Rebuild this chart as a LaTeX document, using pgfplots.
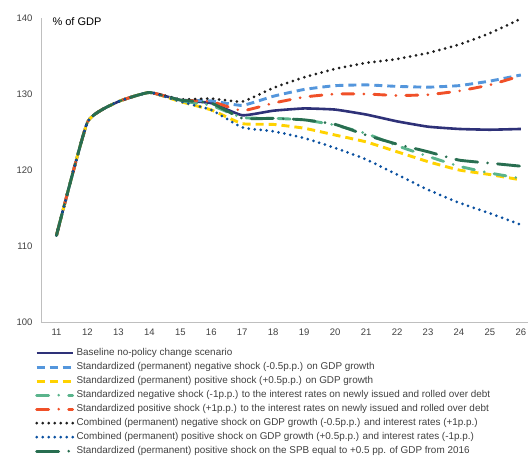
\documentclass[border=0pt]{standalone}
\usepackage{pgfplots}
\pgfplotsset{compat=1.18}
\usepackage{fontspec}
\setmainfont{Liberation Sans}
\definecolor{cnavy}{RGB}{46,49,120}
\definecolor{cblue}{RGB}{84,150,220}
\definecolor{cyellow}{RGB}{255,210,0}
\definecolor{cteal}{RGB}{90,180,140}
\definecolor{corange}{RGB}{240,80,40}
\definecolor{cblack}{RGB}{30,30,30}
\definecolor{cdblue}{RGB}{10,80,160}
\definecolor{cgreen}{RGB}{40,110,80}
\definecolor{cgrid}{RGB}{191,191,191}
\definecolor{ctext}{RGB}{64,64,64}
\begin{document}
\begin{tikzpicture}
\begin{axis}[
  scale only axis, width=487pt, height=304pt,
  xmin=10.5, xmax=26.23, ymin=100, ymax=140,
  axis x line=bottom, axis y line=left,
  axis line style={cgrid, line width=0.8pt, -},
  xtick={11,...,26}, ytick={100,110,120,130,140},
  major tick length=0pt,
  tick label style={font=\fontsize{9.5}{11}\selectfont, text=ctext},
  /pgf/number format/assume math mode=true,
  xticklabel style={yshift=-3pt},
  yticklabel style={xshift=-5pt},
  clip=false,
  legend cell align=left,
  legend style={draw=none, fill=none, at={(0,0)}, anchor=north west, xshift=-9pt, yshift=-22pt,
    font=\fontsize{9.9}{11}\selectfont, text=ctext,
    nodes={text height=7.3pt, text depth=2pt, inner sep=2.35pt}},
  legend image code/.code={\draw[#1] (0pt,0pt) -- (36pt,0pt);},
]
\addplot[cnavy, line width=2.6pt, smooth, tension=0.25] coordinates {(11,111.4)(12,126.3)(13,129.0)(14,130.2)(15,129.2)(16,128.8)(17,127.2)(18,127.8)(19,128.1)(20,127.95)(21,127.3)(22,126.4)(23,125.7)(24,125.4)(25,125.3)(26,125.4)};
\addlegendentry{Baseline no-policy change scenario}
\addplot[cblue, line width=2.9pt, smooth, tension=0.25, dash pattern=on 8pt off 5pt] coordinates {(11,111.4)(12,126.3)(13,129.0)(14,130.2)(15,129.2)(16,129.1)(17,128.5)(18,129.7)(19,130.6)(20,131.1)(21,131.2)(22,131.0)(23,130.9)(24,131.1)(25,131.7)(26,132.5)};
\addlegendentry{Standardized (permanent) negative shock (-0.5p.p.) on GDP growth}
\addplot[cyellow, line width=2.9pt, smooth, tension=0.25, dash pattern=on 8pt off 5pt] coordinates {(11,111.4)(12,126.3)(13,129.0)(14,130.2)(15,129.0)(16,127.9)(17,126.1)(18,126.0)(19,125.5)(20,124.6)(21,123.7)(22,122.4)(23,121.1)(24,120.0)(25,119.4)(26,118.7)};
\addlegendentry{Standardized (permanent) positive shock (+0.5p.p.) on GDP growth}
\addplot[cteal, line width=2.9pt, smooth, tension=0.25, dash pattern=on 12pt off 10pt on 0pt off 10pt, line cap=round] coordinates {(11,111.4)(12,126.3)(13,129.0)(14,130.2)(15,129.1)(16,128.5)(17,126.9)(18,126.8)(19,126.6)(20,125.9)(21,124.8)(22,123.2)(23,121.8)(24,120.5)(25,119.6)(26,118.9)};
\addlegendentry{Standardized negative shock (-1p.p.) to the interest rates on newly issued and rolled over debt}
\addplot[corange, line width=2.9pt, smooth, tension=0.25, dash pattern=on 12pt off 10pt on 0pt off 10pt, line cap=round] coordinates {(11,111.4)(12,126.3)(13,129.0)(14,130.2)(15,129.2)(16,129.0)(17,127.8)(18,128.8)(19,129.6)(20,130.0)(21,130.0)(22,129.8)(23,129.9)(24,130.4)(25,131.2)(26,132.4)};
\addlegendentry{Standardized positive shock (+1p.p.) to the interest rates on newly issued and rolled over debt}
\addplot[cblack, line width=3pt, smooth, tension=0.25, dash pattern=on 0pt off 6pt, line cap=round] coordinates {(11,111.4)(12,126.3)(13,129.0)(14,130.2)(15,129.3)(16,129.4)(17,129.0)(18,130.8)(19,132.2)(20,133.3)(21,134.1)(22,134.6)(23,135.4)(24,136.5)(25,138.0)(26,139.9)};
\addlegendentry{Combined (permanent) negative shock on GDP growth (-0.5p.p.) and interest rates (+1p.p.)}
\addplot[cdblue, line width=3pt, smooth, tension=0.25, dash pattern=on 0pt off 6pt, line cap=round] coordinates {(11,111.4)(12,126.3)(13,129.0)(14,130.2)(15,129.0)(16,127.9)(17,125.6)(18,125.1)(19,124.2)(20,122.9)(21,121.4)(22,119.4)(23,117.4)(24,115.7)(25,114.3)(26,112.8)};
\addlegendentry{Combined (permanent) positive shock on GDP growth (+0.5p.p.) and interest rates (-1p.p.)}
\addplot[cgreen, line width=2.9pt, smooth, tension=0.25, dash pattern=on 22pt off 10pt on 0pt off 10pt, line cap=round] coordinates {(11,111.4)(12,126.3)(13,129.0)(14,130.2)(15,129.2)(16,128.8)(17,126.8)(18,126.8)(19,126.6)(20,126.0)(21,124.6)(22,123.4)(23,122.4)(24,121.3)(25,120.9)(26,120.5)};
\addlegendentry{Standardized (permanent) positive shock on the SPB equal to +0.5 pp. of GDP from 2016}
\node[anchor=west, font=\fontsize{11}{12}\selectfont, text=black] at ([xshift=8pt, yshift=-4pt]rel axis cs:0,1) {\% of GDP};
\end{axis}
\pgfresetboundingbox
\path[use as bounding box] ([xshift=-41pt, yshift=18pt]current axis.north west) rectangle ([yshift=-135pt]current axis.south east);
\end{tikzpicture}
\end{document}
